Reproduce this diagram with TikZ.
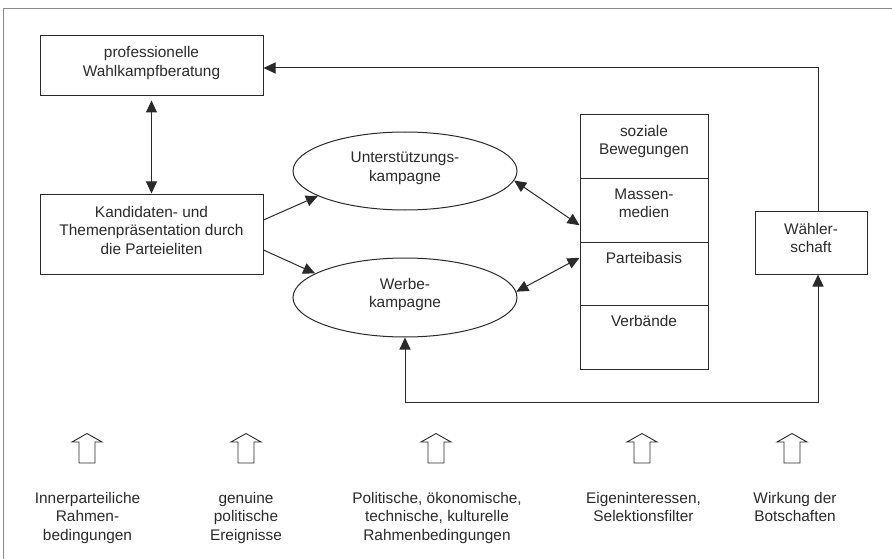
\documentclass[tikz,border=0pt]{standalone}
\usepackage{fontspec}
\setmainfont{Liberation Sans}
\usetikzlibrary{arrows.meta,shapes.geometric,calc}
\definecolor{ink}{HTML}{2A2A2A}
\definecolor{framegray}{HTML}{8A8A8A}
\tikzset{
  base/.style={font=\fontsize{15.4pt}{18.5pt}\selectfont, text=ink, align=center, inner sep=0pt},
  boxnode/.style={base, draw=ink, line width=1pt, rectangle, text depth=9pt},
  ellnode/.style={base, draw=ink, line width=1pt, ellipse, text depth=9pt},
  cellnode/.style={draw=ink, line width=1pt, rectangle, minimum width=128pt, minimum height=63.5pt, inner sep=0pt},
  celltext/.style={base, anchor=north},
  bottomtext/.style={base, anchor=north},
  conn/.style={draw=ink, line width=1pt},
  tip/.style={-{Triangle[length=12pt,width=11pt]}},
  dtip/.style={{Triangle[length=12pt,width=11pt]}-{Triangle[length=12pt,width=11pt]}},
  hollow/.style={draw=ink, line width=0.9pt, fill=white},
}
\begin{document}
\begin{tikzpicture}[x=1pt,y=-1pt]
\useasboundingbox (0,0) rectangle (892,559);
% frame
\draw[framegray, line width=1.5pt] (3.5,559) -- (3.5,8.5) -- (892,8.5);

% nodes
\node[boxnode, minimum width=223pt, minimum height=60pt] (prof) at (151.5,66) {professionelle\\Wahlkampfberatung};
\node[boxnode, minimum width=223pt, minimum height=79pt] (kand) at (151.5,234.5) {Kandidaten- und\\Themenpräsentation durch\\die Parteieliten};
\node[ellnode, minimum width=224pt, minimum height=78pt] (ue) at (405,171) {Unterstützungs-\\kampagne};
\node[ellnode, minimum width=224pt, minimum height=79pt] (we) at (405,297.5) {Werbe-\\kampagne};

\node[cellnode] (c1) at (644,146.75) {};
\node[cellnode] (c2) at (644,210.25) {};
\node[cellnode] (c3) at (644,273.75) {};
\node[cellnode] (c4) at (644,337.25) {};
\node[celltext] (t1) at ([yshift=-10.5pt]c1.north) {soziale\\Bewegungen};
\node[celltext] (t2) at ([yshift=-10.5pt]c2.north) {Massen-\\medien};
\node[celltext] (t3) at ([yshift=-10.5pt]c3.north) {Parteibasis};
\node[celltext] (t4) at ([yshift=-10.5pt]c4.north) {Verbände};

\node[boxnode, minimum width=112pt, minimum height=63pt] (wahl) at (811,242.5) {Wähler-\\schaft};

% connectors
\draw[conn, dtip] ([yshift=-4pt]prof.south) -- ([yshift=1pt]kand.north);
\draw[conn, tip] ([yshift=14.5pt]kand.east) -- (ue.196);
\draw[conn, tip] ([yshift=-15.5pt]kand.east) -- (we.165);
\draw[conn, dtip] (ue.-5) -- ([yshift=-15pt]c2.west);
\draw[conn, dtip] (we.3) -- ([yshift=16pt]c3.west);
\draw[conn, tip] ([xshift=7pt]wahl.north) |- ([yshift=-2pt]prof.east);
\draw[conn, dtip] (we.south) -- (we.south |- 0,402) -| ([xshift=7pt]wahl.south);

% hollow arrows
\foreach \cx in {87,246,436,642,792} {
  \draw[hollow] (\cx,433.5) -- (\cx+15,442) -- (\cx+8,442) -- (\cx+8,463) -- (\cx-8,463) -- (\cx-8,442) -- (\cx-15,442) -- cycle;
}

% bottom texts
\node[bottomtext] (b1) at (87.5,492) {Innerparteiliche\\Rahmen-\\bedingungen};
\node[bottomtext] (b2) at (246,492) {genuine\\politische\\Ereignisse};
\node[bottomtext] (b3) at (437,492) {Politische, ökonomische,\\technische, kulturelle\\Rahmenbedingungen};
\node[bottomtext] (b4) at (643.5,492) {Eigeninteressen,\\Selektionsfilter};
\node[bottomtext] (b5) at (795,492) {Wirkung der\\Botschaften};
\end{tikzpicture}
\end{document}
